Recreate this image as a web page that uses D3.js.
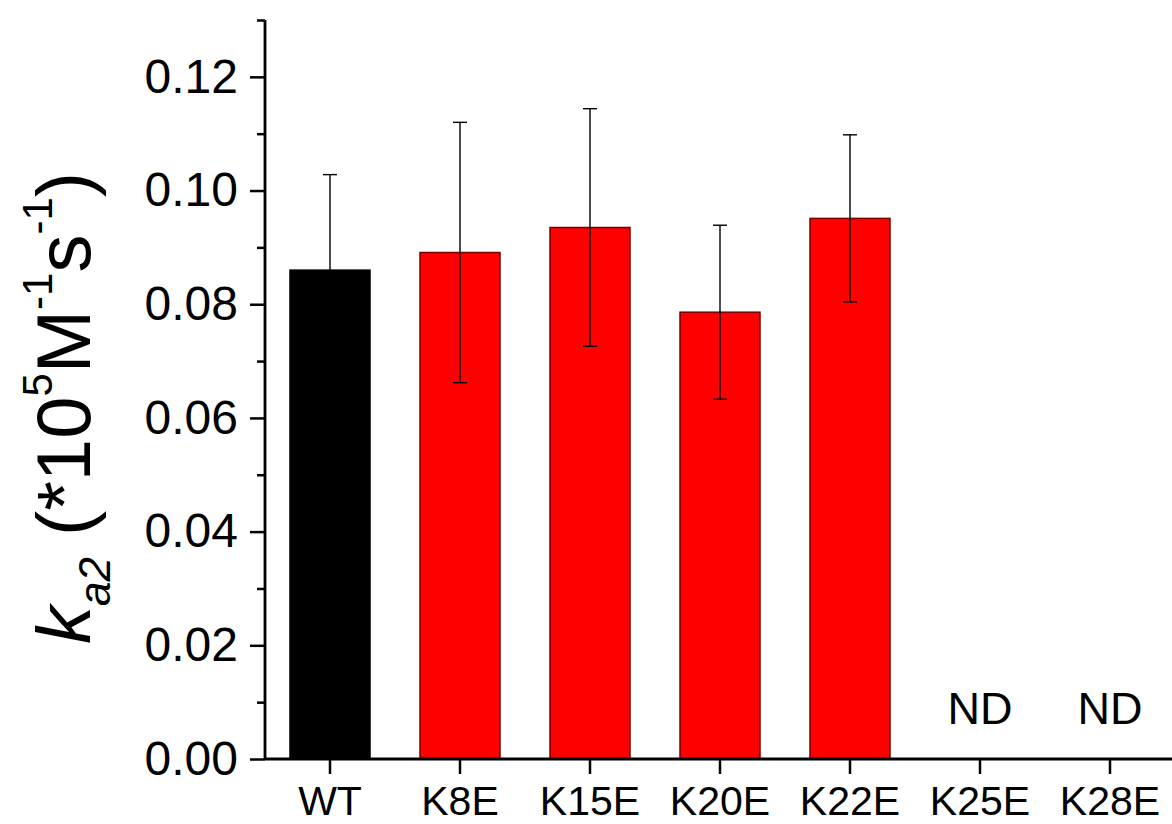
<!DOCTYPE html>
<html>
<head>
<meta charset="utf-8">
<script src="https://cdn.jsdelivr.net/npm/d3@7"></script>
<style>
  body { margin: 0; background: #fff; }
  svg { font-family: "Liberation Sans", Arial, sans-serif; }
</style>
</head>
<body>
<svg id="chart" width="1172" height="824"></svg>
<script>
// data
var categories = ["WT", "K8E", "K15E", "K20E", "K22E", "K25E", "K28E"];
var rates = [0.0860, 0.0891, 0.0935, 0.0786, 0.0951, null, null];
var rateErrors = [0.0168, 0.0229, 0.0209, 0.0153, 0.0147, null, null];
var barColors = ["#000000", "#ff0000", "#ff0000", "#ff0000", "#ff0000", "#ff0000", "#ff0000"];
var majorTicks = [0, 0.02, 0.04, 0.06, 0.08, 0.10, 0.12];
var minorTicks = [0.01, 0.03, 0.05, 0.07, 0.09, 0.11, 0.13];

var svg = d3.select("#chart");
var plotLeft = 265, plotRight = 1175, plotTop = 20, plotBottom = 759;

var x = d3.scaleBand()
    .domain(categories)
    .range([plotLeft, plotRight])
    .paddingInner(50 / 130)
    .paddingOuter(25 / 130);

var y = d3.scaleLinear()
    .domain([0, 0.13])
    .range([plotBottom, plotTop]);

var rows = categories.map(function(c, i) {
  return {cat: c, value: rates[i], err: rateErrors[i], color: barColors[i]};
});

// bars
svg.append("g").selectAll("rect")
  .data(rows.filter(function(d) { return d.value != null; }))
  .enter().append("rect")
    .attr("x", function(d) { return x(d.cat); })
    .attr("width", x.bandwidth())
    .attr("y", function(d) { return y(d.value); })
    .attr("height", function(d) { return y(0) - y(d.value); })
    .attr("fill", function(d) { return d.color; })
    .attr("stroke", function(d) { return d.color == "#000000" ? "#000" : "#7a0000"; })
    .attr("stroke-width", 1.5);

// error bars
var eb = svg.append("g").attr("stroke", "#000").attr("stroke-width", 1.4)
  .selectAll("g")
  .data(rows.filter(function(d) { return d.err != null; }))
  .enter().append("g");
eb.append("line")
  .attr("x1", function(d) { return x(d.cat) + x.bandwidth() / 2; })
  .attr("x2", function(d) { return x(d.cat) + x.bandwidth() / 2; })
  .attr("y1", function(d) { return y(d.value - d.err); })
  .attr("y2", function(d) { return y(d.value + d.err); });
eb.selectAll("line.cap")
  .data(function(d) { return [[d, d.value + d.err], [d, d.value - d.err]]; })
  .enter().append("line")
    .attr("class", "cap")
    .attr("x1", function(p) { return x(p[0].cat) + x.bandwidth() / 2 - 7; })
    .attr("x2", function(p) { return x(p[0].cat) + x.bandwidth() / 2 + 7; })
    .attr("y1", function(p) { return y(p[1]); })
    .attr("y2", function(p) { return y(p[1]); });

// ND labels
svg.append("g").selectAll("text")
  .data(rows.filter(function(d) { return d.value == null; }))
  .enter().append("text")
    .attr("x", function(d) { return x(d.cat) + x.bandwidth() / 2; })
    .attr("y", 724)
    .attr("text-anchor", "middle")
    .attr("font-size", 45)
    .text("ND");

// y axis, minor ticks first
svg.append("g")
    .attr("transform", "translate(" + plotLeft + ",0)")
    .call(d3.axisLeft(y).tickValues(minorTicks).tickSize(8).tickFormat(""))
    .call(function(g) { g.select(".domain").remove(); })
    .selectAll("line").attr("stroke-width", 2.5);

var yAxis = svg.append("g")
    .attr("transform", "translate(" + plotLeft + ",0)")
    .call(d3.axisLeft(y).tickValues(majorTicks).tickSize(15).tickPadding(12)
          .tickSizeOuter(0).tickFormat(d3.format(".2f")));
yAxis.select(".domain").attr("stroke-width", 2.8)
    .attr("d", "M0," + y(0) + "V" + plotTop);
yAxis.selectAll("line").attr("stroke-width", 2.5);
yAxis.selectAll("text").attr("font-size", 48).attr("fill", "#000")
    .attr("font-family", "Liberation Sans, Arial, sans-serif");

// x axis
var xAxis = svg.append("g")
    .attr("transform", "translate(0," + plotBottom + ")")
    .call(d3.axisBottom(x).tickSize(15).tickPadding(12).tickSizeOuter(0));
xAxis.select(".domain").attr("stroke-width", 2.8)
    .attr("d", "M" + plotLeft + ",0H1172");
xAxis.selectAll("line").attr("stroke-width", 2.5);
xAxis.selectAll("text").attr("font-size", 41).attr("fill", "#000")
    .attr("font-family", "Liberation Sans, Arial, sans-serif")
    .attr("dy", "0.71em");

// y axis title
var title = svg.append("text")
    .attr("transform", "translate(90,408) rotate(-90)")
    .attr("text-anchor", "middle")
    .attr("font-size", 76);
title.append("tspan").attr("font-style", "italic").text("k");
title.append("tspan").attr("font-style", "italic").attr("font-size", 44).attr("dy", 20).text("a2");
title.append("tspan").attr("dy", -20).text(" (*10");
title.append("tspan").attr("font-size", 42).attr("dy", -38).text("5");
title.append("tspan").attr("dy", 38).text("M");
title.append("tspan").attr("font-size", 42).attr("dy", -38).text("-1");
title.append("tspan").attr("dy", 38).text("s");
title.append("tspan").attr("font-size", 42).attr("dy", -38).text("-1");
title.append("tspan").attr("dy", 38).text(")");
</script>
</body>
</html>
